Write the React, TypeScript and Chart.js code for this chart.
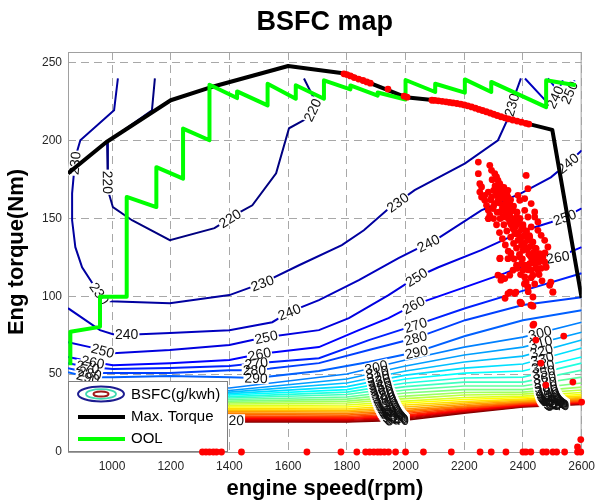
import React, { useEffect, useRef } from "react";
import { Chart, registerables } from "chart.js";

Chart.register(...registerables);

const FONT = '"Liberation Sans", Arial, Helvetica, sans-serif';

const X_MIN = 850;
const X_MAX = 2600;
const Y_MIN = 0;
const Y_MAX = 257;
const xTicks = [1000, 1200, 1400, 1600, 1800, 2000, 2200, 2400, 2600];
const yTicks = [0, 50, 100, 150, 200, 250];

// Max. torque curve
const maxTorqueRpm = [850, 980, 1200, 1330, 1600, 1800, 2000, 2100, 2200, 2350, 2500, 2600];
const maxTorqueNm = [179, 199, 226, 234, 248, 243, 228, 226, 223, 214, 207, 99];

// Optimal operating line (stepped)
const oolRpm = [858, 858, 959, 959, 1050, 1050, 1151, 1151, 1242, 1242, 1332, 1332, 1426, 1426, 1530, 1530, 1626, 1626, 1722, 1722, 1812, 1812, 1905, 1905, 2000, 2000, 2101, 2101, 2202, 2202, 2292, 2292, 2479, 2479, 2580];
const oolNm = [55.8, 77.2, 80.4, 99.7, 99.7, 163.9, 157.4, 183, 175.6, 207.8, 200.3, 236, 227.4, 231.7, 222.7, 236.6, 227, 235.6, 227, 238.8, 233, 235.5, 229, 231, 226.5, 239, 231.3, 236.6, 230.9, 239.4, 231.3, 237.8, 221.6, 238.8, 235.6];

// BSFC contours, high-load part [rpm, Nm]
const contour220 = [[1146, 240], [1136, 219.5], [983, 199.1], [986, 168.2], [1003, 157.3], [1068, 148.9], [1197, 136.1], [1349, 143.8], [1434, 154.0], [1478, 158.5], [1559, 179.1], [1603, 208.0], [1671, 215.0], [1695, 224.6], [1654, 240]];
const contour230 = [[1020, 240], [1007, 219.5], [892, 200.3], [875, 189.3], [864, 166.2], [864, 148.9], [875, 131.6], [898, 118.7], [942, 105.9], [959, 101.4], [993, 96.9], [1197, 95.6], [1400, 100.8], [1512, 108.5], [1637, 120.0], [1783, 132.9], [1858, 142.5], [1936, 155.3], [2031, 168.2], [2203, 185.5], [2315, 200.3], [2349, 214.4], [2366, 225.9], [2393, 240]];
const contour240 = [[850, 92.4], [959, 78.3], [1003, 75.7], [1095, 75.7], [1197, 76.4], [1400, 78.3], [1546, 83.4], [1603, 89.9], [1705, 97.6], [1841, 110.4], [1976, 124.5], [2112, 137.4], [2258, 155.3], [2393, 166.2], [2495, 176.5], [2553, 185.5], [2600, 193.8]];
const contour240Top = [[2407, 240], [2495, 222.1], [2536, 238.8]];
const contour250 = [[850, 70.6], [925, 67.4], [1003, 63.5], [1197, 65.5], [1400, 68.7], [1478, 71.9], [1525, 73.8], [1705, 78.3], [1807, 86.0], [1942, 100.8], [2037, 112.3], [2112, 118.7], [2258, 129.7], [2407, 142.5], [2495, 147.6], [2542, 150.8], [2600, 156.6]];
const contour250Top = [[2485, 240], [2546, 225.9], [2576, 238.8]];
const contour260 = [[850, 61.0], [935, 57.8], [1003, 55.8], [1197, 57.1], [1400, 59.1], [1502, 62.9], [1705, 67.4], [1841, 78.3], [1942, 86.0], [2027, 94.4], [2203, 105.9], [2339, 114.9], [2451, 123.2], [2519, 125.2], [2600, 131.6]];
const contour270 = [[850, 57.1], [918, 54.6], [1003, 53.3], [1197, 53.9], [1400, 55.2], [1492, 57.1], [1705, 60.3], [1875, 71.9], [2034, 81.5], [2203, 92.4], [2373, 102.1], [2600, 114.9]];
const contour280 = [[850, 53.9], [925, 50.7], [1003, 50.7], [1197, 50.7], [1400, 52.6], [1485, 52.6], [1705, 57.1], [1875, 65.5], [2034, 73.2], [2203, 84.7], [2400, 94.4], [2600, 99.5]];
const contour290 = [[850, 51.3], [918, 48.1], [1003, 48.1], [1197, 48.8], [1400, 48.1], [1491, 47.5], [1705, 52.0], [1875, 57.8], [2037, 64.2], [2203, 74.5], [2400, 84.7], [2600, 91.1]];

// BSFC contours, low-load band (one row per level, torque at bandRpm)
const bandRpm = [850, 1000, 1400, 1800, 2000, 2200, 2400, 2600];
const bandLevels = [300, 310, 320, 330, 340, 350, 360, 370, 380, 390, 400, 410, 420, 430, 440, 450, 460, 470, 480, 490, 500, 510, 520, 530, 540];
const bandNm = [
  [42.4, 43.0, 41.1, 50.1, 59.1, 67.4, 73.8, 83.4],
  [40.4, 41.1, 39.5, 46.9, 55.2, 62.3, 67.4, 77.0],
  [39.2, 39.8, 38.5, 44.3, 52.0, 57.8, 61.6, 71.9],
  [37.9, 38.5, 37.5, 42.0, 49.4, 53.9, 56.5, 66.8],
  [36.6, 37.2, 36.6, 40.1, 46.9, 50.7, 52.0, 61.0],
  [35.3, 35.9, 35.6, 38.5, 44.3, 47.5, 48.1, 57.1],
  [34.0, 34.7, 34.7, 36.9, 42.0, 44.9, 44.9, 52.6],
  [32.7, 33.4, 33.7, 35.3, 39.8, 42.4, 42.4, 48.1],
  [31.5, 32.1, 32.7, 34.0, 37.9, 40.1, 40.1, 44.3],
  [30.2, 30.8, 31.8, 32.7, 35.9, 38.2, 38.5, 41.7],
  [28.9, 29.5, 30.8, 31.5, 34.3, 36.6, 37.2, 39.8],
  [27.6, 28.2, 29.8, 30.2, 32.7, 35.0, 35.9, 38.2],
  [26.3, 27.0, 28.9, 28.9, 31.5, 33.7, 35.0, 36.9],
  [25.0, 25.7, 27.9, 27.6, 30.2, 32.4, 34.0, 35.9],
  [23.7, 24.4, 27.0, 26.6, 28.9, 31.5, 33.4, 35.0],
  [22.5, 23.1, 26.0, 25.7, 27.6, 30.5, 32.7, 34.3],
  [21.2, 21.8, 25.0, 24.7, 26.6, 29.5, 32.1, 33.7],
  [20.2, 20.9, 24.1, 23.7, 25.7, 28.9, 31.6, 33.2],
  [19.3, 19.9, 23.1, 22.8, 24.7, 28.2, 31.1, 32.7],
  [18.6, 19.3, 22.5, 22.1, 23.7, 27.6, 30.7, 32.3],
  [18.0, 18.6, 21.8, 21.5, 23.1, 27.0, 30.3, 31.9],
  [17.3, 18.0, 21.2, 20.9, 22.5, 26.4, 29.9, 31.5],
  [16.7, 17.3, 20.5, 20.2, 21.8, 26.0, 29.5, 31.2],
  [16.0, 16.7, 19.9, 19.6, 21.2, 25.5, 29.2, 30.9],
  [15.4, 16.0, 19.3, 19.3, 20.5, 25.0, 28.9, 30.6],
];

// contour label anchors [level, rpm, Nm]
const contourLabels = [
  [220, 986, 173.3], [220, 1410, 147.6], [220, 1685, 219.5],
  [230, 878, 185.5], [230, 959, 102.1], [230, 1512, 108.5], [230, 1963, 163.0], [230, 2366, 222.7],
  [240, 1050, 75.7], [240, 1603, 90.5], [240, 2078, 134], [240, 2553, 185.5], [240, 2509, 228],
  [250, 969, 65.5], [250, 1525, 73.8], [250, 2037, 112.3], [250, 2542, 150.8], [250, 2556, 231],
  [260, 935, 57.8], [260, 1502, 62.9], [260, 2027, 94.4], [260, 2519, 125.2],
  [270, 918, 54.6], [270, 1492, 57.1], [270, 2034, 81.5],
  [280, 925, 50.7], [280, 1485, 52.6], [280, 2034, 73.2],
  [290, 918, 47.5], [290, 1491, 47.5], [290, 2037, 64.2],
  [520, 1410, 20.5],
];
const labelStackRpm = [1900, 2458];

// measured operating points
const opPointsTop = [[1790, 243], [1800, 242.5], [1812, 241.6], [1825, 240.6], [1840, 239.6], [1855, 238.7], [1868, 237.8], [1880, 237], [1940, 233.2], [1995, 228.6], [2005, 228], [2090, 226], [2100, 225.9], [2112, 225.6], [2125, 225.3], [2138, 225], [2150, 224.6], [2162, 224.3], [2175, 223.9], [2188, 223.5], [2200, 223], [2212, 222.4], [2225, 221.7], [2238, 220.9], [2250, 220.1], [2262, 219.4], [2275, 218.6], [2288, 217.8], [2300, 217], [2312, 216.2], [2325, 215.4], [2338, 214.7], [2350, 214], [2365, 213.3], [2380, 212.6], [2395, 211.9], [2410, 211.2], [2420, 210.7]];
const opPointsCluster = [[2248, 186.3], [2287, 184.2], [2293, 181.0], [2304, 178.8], [2310, 176.7], [2315, 174.5], [2321, 172.4], [2327, 170.3], [2248, 178.8], [2253, 172.4], [2259, 170.3], [2253, 167.0], [2259, 163.8], [2270, 161.7], [2276, 158.5], [2282, 155.3], [2287, 152.1], [2282, 149.9], [2298, 156.4], [2304, 159.6], [2315, 161.7], [2327, 163.8], [2338, 166.0], [2349, 163.8], [2355, 159.6], [2338, 157.4], [2321, 154.2], [2332, 151.0], [2349, 153.1], [2366, 155.3], [2378, 151.0], [2383, 164.9], [2389, 161.7], [2406, 162.8], [2411, 177.7], [2417, 169.2], [2428, 159.6], [2440, 154.2], [2383, 146.7], [2400, 144.6], [2411, 141.4], [2423, 138.2], [2434, 134.9], [2445, 130.7], [2457, 127.5], [2468, 125.3], [2474, 122.1], [2479, 118.9], [2451, 142.4], [2462, 139.2], [2474, 136.0], [2485, 131.7], [2355, 147.8], [2366, 143.5], [2372, 140.3], [2383, 136.0], [2395, 132.8], [2400, 129.6], [2389, 125.3], [2395, 121.0], [2400, 116.8], [2406, 112.5], [2411, 109.3], [2378, 120.0], [2366, 116.8], [2355, 113.6], [2338, 111.4], [2327, 112.5], [2315, 113.6], [2321, 124.2], [2349, 124.2], [2423, 121.0], [2428, 116.8], [2434, 113.6], [2451, 116.8], [2417, 106.1], [2434, 99.6], [2428, 94.3], [2395, 95.4], [2349, 101.8], [2372, 101.8], [2491, 107.1], [2502, 102.9], [2440, 151.0], [2451, 147.8], [2428, 144.6], [2417, 151.0], [2406, 155.3], [2389, 149.9], [2378, 154.2], [2349, 168.1], [2332, 168.1], [2310, 166.0], [2293, 163.8], [2282, 167.0], [2270, 164.9],
  [2322, 124.5], [2359, 127.7], [2325, 110.4], [2356, 102.7], [2376, 102.7], [2339, 98.8], [2390, 96.3], [2427, 94.4], [2417, 105.9], [2478, 118.7], [2495, 109.1], [2502, 102.7], [2434, 81.5],
  [2300, 168], [2310, 165], [2320, 160], [2330, 157], [2340, 154], [2350, 150], [2360, 146], [2370, 143], [2380, 140], [2390, 137], [2400, 134], [2410, 131], [2420, 127], [2430, 124], [2440, 121], [2450, 118],
  [2318, 170], [2330, 167], [2342, 162], [2352, 158], [2362, 155], [2372, 150], [2385, 147], [2395, 143], [2405, 139], [2415, 136], [2425, 132], [2435, 128], [2445, 125], [2455, 122], [2462, 118],
  [2290, 162], [2300, 158], [2312, 154], [2322, 150], [2335, 146], [2345, 142], [2358, 138], [2368, 134], [2378, 131], [2388, 127], [2398, 124], [2408, 120], [2418, 117], [2428, 112], [2440, 108],
  [2295, 175], [2305, 171], [2315, 167], [2325, 163], [2335, 159], [2345, 156], [2355, 152], [2365, 148], [2375, 145], [2385, 141], [2395, 138], [2405, 134], [2415, 130], [2425, 126], [2435, 122], [2445, 118], [2455, 114], [2465, 110],
  [2335, 170], [2345, 166], [2358, 162], [2368, 158], [2380, 154], [2390, 150], [2400, 146], [2412, 142], [2422, 139], [2432, 135], [2442, 131], [2452, 127], [2465, 124], [2475, 128],
  [2300, 150], [2310, 146], [2320, 141], [2330, 137], [2340, 133], [2350, 129], [2360, 125], [2370, 124], [2380, 118], [2392, 114], [2405, 108], [2418, 103]];
const opPointsLow = [[2393, 95.6], [2434, 93.7], [2437, 82.2], [2444, 71.9], [2539, 74.5], [2461, 57.1], [2478, 43.0], [2570, 44.9], [2600, 32.1], [2586, 3.2], [2597, 8]];
const opPointsIdleRpm = [1308, 1320, 1332, 1345, 1356, 1373, 1441, 1664, 1780, 1834, 1864, 1878, 1892, 1905, 1915, 1928, 1942, 1966, 2000, 2061, 2156, 2254, 2292, 2342, 2400, 2410, 2427, 2468, 2480, 2502, 2515, 2542, 2586, 2597];

type Piece = { level: number; pts: number[][] };
const contourPieces: Piece[] = [
  { level: 220, pts: contour220 },
  { level: 230, pts: contour230 },
  { level: 240, pts: contour240 },
  { level: 240, pts: contour240Top },
  { level: 250, pts: contour250 },
  { level: 250, pts: contour250Top },
  { level: 260, pts: contour260 },
  { level: 270, pts: contour270 },
  { level: 280, pts: contour280 },
  { level: 290, pts: contour290 },
  ...bandLevels.map((level, i) => ({ level, pts: bandRpm.map((r, j) => [r, bandNm[i][j]]) })),
];

function jet(level: number) {
  const t = (level - 220) / (540 - 220);
  const c = (v: number) => Math.round(255 * Math.max(0, Math.min(1, v)));
  return `rgb(${c(1.5 - Math.abs(4 * t - 3))},${c(1.5 - Math.abs(4 * t - 2))},${c(1.5 - Math.abs(4 * t - 1))})`;
}

function interp(xs: number[], ys: number[], x: number) {
  for (let i = 0; i < xs.length - 1; i++) {
    if (x >= xs[i] && x <= xs[i + 1]) {
      const f = (x - xs[i]) / (xs[i + 1] - xs[i]);
      return ys[i] + f * (ys[i + 1] - ys[i]);
    }
  }
  return ys[ys.length - 1];
}

function nearestOnLevel(chart: any, level: number, rpm: number, nm: number) {
  const xs = chart.scales.x, ys = chart.scales.y;
  const tx = xs.getPixelForValue(rpm), ty = ys.getPixelForValue(nm);
  let best = { d: Infinity, x: tx, y: ty, a: 0 };
  for (const pc of contourPieces) {
    if (pc.level !== level) continue;
    for (let i = 0; i < pc.pts.length - 1; i++) {
      const x0 = xs.getPixelForValue(pc.pts[i][0]), y0 = ys.getPixelForValue(pc.pts[i][1]);
      const x1 = xs.getPixelForValue(pc.pts[i + 1][0]), y1 = ys.getPixelForValue(pc.pts[i + 1][1]);
      const dx = x1 - x0, dy = y1 - y0;
      const L2 = dx * dx + dy * dy || 1;
      let t = ((tx - x0) * dx + (ty - y0) * dy) / L2;
      t = Math.max(0, Math.min(1, t));
      const px = x0 + t * dx, py = y0 + t * dy;
      const d = (px - tx) ** 2 + (py - ty) ** 2;
      if (d < best.d) {
        let a = Math.atan2(dy, dx);
        if (a > Math.PI / 2) a -= Math.PI;
        if (a < -Math.PI / 2) a += Math.PI;
        best = { d, x: px, y: py, a };
      }
    }
  }
  return best;
}

function drawContourLabels(chart: any) {
  const ctx = chart.ctx as CanvasRenderingContext2D;
  const items: { x: number; y: number; a: number; text: string }[] = [];
  for (const [level, rpm, nm] of contourLabels) {
    const b = nearestOnLevel(chart, level, rpm, nm);
    items.push({ x: b.x, y: b.y, a: b.a, text: String(level) });
  }
  labelStackRpm.forEach((base, s) => {
    bandLevels.forEach((level, i) => {
      const rpm = base + i * (s === 0 ? 3 : 2.5);
      const nm = interp(bandRpm, bandNm[i], rpm);
      const b = nearestOnLevel(chart, level, rpm, nm);
      items.push({ x: b.x, y: b.y, a: b.a, text: String(level) });
    });
  });
  ctx.save();
  ctx.font = `14px ${FONT}`;
  ctx.textAlign = "center";
  ctx.textBaseline = "middle";
  for (const it of items) {
    const w = ctx.measureText(it.text).width;
    ctx.save();
    ctx.translate(it.x, it.y);
    ctx.rotate(it.a);
    ctx.fillStyle = "#ffffff";
    ctx.fillRect(-w / 2 - 1, -6, w + 2, 12);
    ctx.restore();
  }
  ctx.fillStyle = "#111111";
  for (const it of items) {
    ctx.save();
    ctx.translate(it.x, it.y);
    ctx.rotate(it.a);
    ctx.fillText(it.text, 0, 1);
    ctx.restore();
  }
  ctx.restore();
}

function drawLegend(chart: any) {
  const ctx = chart.ctx as CanvasRenderingContext2D;
  const area = chart.chartArea;
  const x0 = area.left, y0 = 381, w = 160, h = area.bottom - y0;
  ctx.save();
  ctx.fillStyle = "#ffffff";
  ctx.fillRect(x0, y0, w, h);
  ctx.strokeStyle = "#808080";
  ctx.lineWidth = 1;
  ctx.strokeRect(x0 + 0.5, y0 + 0.5, w - 1, h - 1);
  const cx = x0 + 33, cy = y0 + 13;
  const ell = (rx: number, ry: number, color: string, lw: number) => {
    ctx.beginPath();
    ctx.ellipse(cx, cy, rx, ry, 0, 0, Math.PI * 2);
    ctx.strokeStyle = color;
    ctx.lineWidth = lw;
    ctx.stroke();
  };
  ell(23, 7.5, "#1c1c90", 2);
  ell(15, 4.8, "#3fd9b0", 1.8);
  ell(7.5, 2.6, "#a01818", 2);
  ctx.lineCap = "butt";
  ctx.lineWidth = 4;
  ctx.strokeStyle = "#000000";
  ctx.beginPath(); ctx.moveTo(x0 + 10, y0 + 36); ctx.lineTo(x0 + 57, y0 + 36); ctx.stroke();
  ctx.strokeStyle = "#00ff00";
  ctx.beginPath(); ctx.moveTo(x0 + 10, y0 + 58); ctx.lineTo(x0 + 57, y0 + 58); ctx.stroke();
  ctx.fillStyle = "#000000";
  ctx.font = `15px ${FONT}`;
  ctx.textAlign = "left";
  ctx.textBaseline = "middle";
  ctx.fillText("BSFC(g/kwh)", x0 + 63, y0 + 14);
  ctx.fillText("Max. Torque", x0 + 63, y0 + 36);
  ctx.fillText("OOL", x0 + 63, y0 + 58);
  ctx.restore();
}

const mapPlugin = {
  id: "bsfcMap",
  beforeDatasetsDraw(chart: any) {
    const ctx = chart.ctx as CanvasRenderingContext2D;
    const a = chart.chartArea;
    ctx.save();
    ctx.strokeStyle = "#a0a0a0";
    ctx.lineWidth = 1;
    ctx.strokeRect(a.left + 0.5, a.top + 0.5, a.right - a.left - 1, a.bottom - a.top);
    ctx.restore();
  },
  beforeDatasetDraw(chart: any, args: any) {
    if (args.index === 2) drawContourLabels(chart);
    if (args.index === 1) drawLegend(chart);
  },
  afterDraw(chart: any) {
    const ctx = chart.ctx as CanvasRenderingContext2D;
    const a = chart.chartArea;
    const cx = (a.left + a.right) / 2;
    ctx.save();
    ctx.fillStyle = "#000000";
    ctx.textAlign = "center";
    ctx.textBaseline = "middle";
    ctx.font = `bold 27px ${FONT}`;
    ctx.fillText("BSFC map", cx, 23);
    ctx.font = `bold 22px ${FONT}`;
    ctx.fillText("engine speed(rpm)", cx, 489);
    ctx.translate(17, (a.top + a.bottom) / 2);
    ctx.rotate(-Math.PI / 2);
    ctx.fillText("Eng torque(Nm)", 0, 0);
    ctx.restore();
  },
};

export default function App() {
  const ref = useRef<HTMLCanvasElement>(null);
  useEffect(() => {
    const opPoints = [
      ...opPointsTop,
      ...opPointsCluster,
      ...opPointsLow,
      ...opPointsIdleRpm.map((r) => [r, 0]),
    ];
    const datasets: any[] = [
      {
        type: "scatter",
        label: "points",
        data: opPoints.map(([x, y]) => ({ x, y })),
        pointRadius: 3.4,
        pointBackgroundColor: "#ff0000",
        pointBorderWidth: 0,
        showLine: false,
        order: 0,
        clip: false,
      },
      {
        type: "line",
        label: "OOL",
        data: oolRpm.map((x, i) => ({ x, y: oolNm[i] })),
        borderColor: "#00ff00",
        borderWidth: 4,
        pointRadius: 0,
        fill: false,
        borderJoinStyle: "round",
        order: 1,
      },
      {
        type: "line",
        label: "Max. Torque",
        data: maxTorqueRpm.map((x, i) => ({ x, y: maxTorqueNm[i] })),
        borderColor: "#000000",
        borderWidth: 4,
        pointRadius: 0,
        fill: false,
        borderJoinStyle: "round",
        order: 2,
      },
      ...contourPieces.map((pc) => ({
        type: "line",
        label: "BSFC " + pc.level,
        data: pc.pts.map(([x, y]) => ({ x, y })),
        borderColor: jet(pc.level),
        borderWidth: pc.level < 300 ? 2 : 1.6,
        pointRadius: 0,
        fill: false,
        order: 3,
      })),
    ];
    const chart = new Chart(ref.current as HTMLCanvasElement, {
      type: "line",
      data: { datasets },
      options: {
        responsive: false,
        animation: false,
        devicePixelRatio: 1,
        layout: { padding: { left: 0, top: 52, right: 18, bottom: 0 } },
        plugins: {
          legend: { display: false },
          tooltip: { enabled: false },
          title: { display: false },
        },
        scales: {
          x: {
            type: "linear",
            min: X_MIN,
            max: X_MAX,
            afterBuildTicks: (s: any) => {
              s.ticks = xTicks.map((v) => ({ value: v }));
            },
            afterFit: (s: any) => {
              s.height = 49;
            },
            grid: { color: "#a8a8a8", lineWidth: 1, drawTicks: false },
            border: { display: false, dash: [8, 5] },
            ticks: {
              padding: 7,
              color: "#262626",
              font: { family: FONT, size: 12 },
              callback: (v: any) => String(v),
              maxRotation: 0,
            },
          },
          y: {
            type: "linear",
            min: Y_MIN,
            max: Y_MAX,
            afterBuildTicks: (s: any) => {
              s.ticks = yTicks.map((v) => ({ value: v }));
            },
            afterFit: (s: any) => {
              s.width = 68;
            },
            grid: { color: "#a8a8a8", lineWidth: 1, drawTicks: false },
            border: { display: false, dash: [8, 5] },
            ticks: {
              padding: 6,
              color: "#262626",
              font: { family: FONT, size: 12 },
              callback: (v: any) => String(v),
            },
          },
        },
      },
      plugins: [mapPlugin],
    } as any);
    return () => chart.destroy();
  }, []);
  return (
    <div style={{ position: "absolute", left: 0, top: 0, width: 602, height: 501, background: "#ffffff" }}>
      <canvas ref={ref} width={602} height={501} style={{ width: 602, height: 501, display: "block" }} />
    </div>
  );
}
